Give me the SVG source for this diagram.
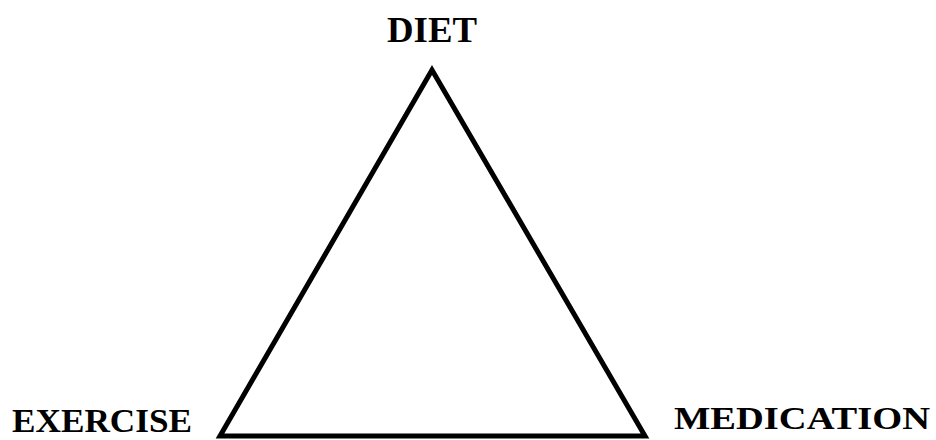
<svg xmlns="http://www.w3.org/2000/svg" width="936" height="440" viewBox="0 0 936 440">
<style>
text{font-family:"Liberation Serif","Times New Roman",serif;font-weight:bold;fill:#000}
.edge{fill:none;stroke:#000;stroke-width:5;stroke-linejoin:miter}
</style>
<rect width="936" height="440" fill="#fff"/>
<g id="connectors">
<polygon class="edge" points="432,70 645,436 220,436"/>
</g>
<g id="node-diet"><text x="387" y="42" font-size="36" textLength="90" lengthAdjust="spacingAndGlyphs">DIET</text></g>
<g id="node-exercise"><text x="12" y="432" font-size="34" textLength="180" lengthAdjust="spacingAndGlyphs">EXERCISE</text></g>
<g id="node-medication"><text x="674" y="429" font-size="32" textLength="256" lengthAdjust="spacingAndGlyphs">MEDICATION</text></g>
</svg>
